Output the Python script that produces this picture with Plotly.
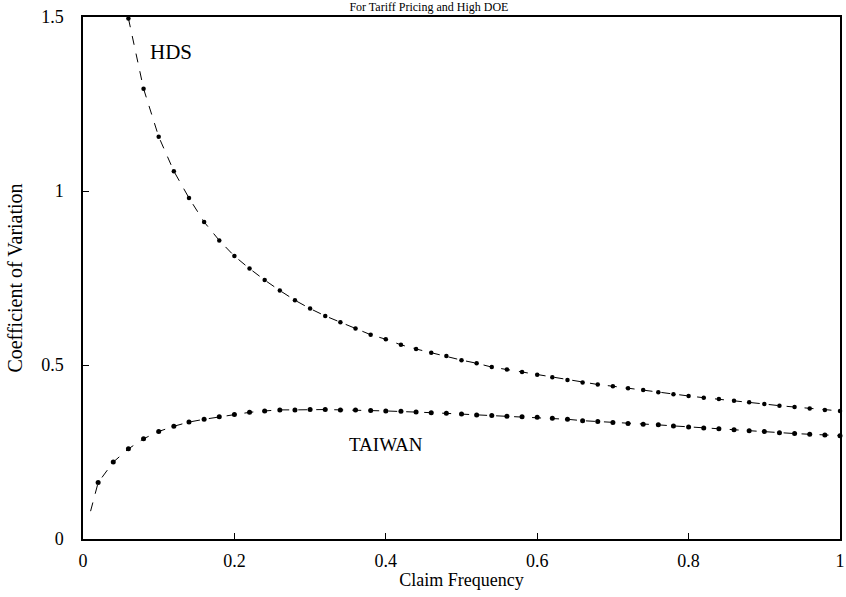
import plotly.graph_objects as go

# ---- data ----
x_taiwan = [0.02, 0.04, 0.06, 0.08, 0.10, 0.12, 0.14, 0.16, 0.18, 0.20,
            0.22, 0.24, 0.26, 0.28, 0.30, 0.32, 0.34, 0.36, 0.38, 0.40,
            0.42, 0.44, 0.46, 0.48, 0.50, 0.52, 0.54, 0.56, 0.58, 0.60,
            0.62, 0.64, 0.66, 0.68, 0.70, 0.72, 0.74, 0.76, 0.78, 0.80,
            0.82, 0.84, 0.86, 0.88, 0.90, 0.92, 0.94, 0.96, 0.98, 1.00]
y_taiwan = [0.162, 0.221, 0.259, 0.288, 0.309, 0.324, 0.336, 0.344, 0.351, 0.358,
            0.364, 0.368, 0.371, 0.371, 0.372, 0.372, 0.371, 0.371, 0.369, 0.368,
            0.367, 0.365, 0.363, 0.361, 0.359, 0.356, 0.355, 0.353, 0.351, 0.350,
            0.347, 0.344, 0.340, 0.338, 0.335, 0.332, 0.330, 0.328, 0.325, 0.322,
            0.319, 0.317, 0.314, 0.311, 0.309, 0.305, 0.303, 0.301, 0.299, 0.297]
# dashed curve continues toward the origin before the first marker
x_taiwan_lead = [0.01]
y_taiwan_lead = [0.08]

x_hds = [0.06, 0.08, 0.10, 0.12, 0.14, 0.16, 0.18, 0.20,
         0.22, 0.24, 0.26, 0.28, 0.30, 0.32, 0.34, 0.36, 0.38, 0.40,
         0.42, 0.44, 0.46, 0.48, 0.50, 0.52, 0.54, 0.56, 0.58, 0.60,
         0.62, 0.64, 0.66, 0.68, 0.70, 0.72, 0.74, 0.76, 0.78, 0.80,
         0.82, 0.84, 0.86, 0.88, 0.90, 0.92, 0.94, 0.96, 0.98, 1.00]
y_hds = [1.496, 1.294, 1.156, 1.057, 0.980, 0.911, 0.858, 0.813,
         0.777, 0.744, 0.714, 0.686, 0.662, 0.641, 0.623, 0.605, 0.587, 0.574,
         0.558, 0.546, 0.535, 0.526, 0.514, 0.505, 0.494, 0.487, 0.480, 0.472,
         0.465, 0.457, 0.450, 0.444, 0.439, 0.433, 0.428, 0.422, 0.416, 0.411,
         0.406, 0.402, 0.397, 0.393, 0.388, 0.383, 0.379, 0.375, 0.371, 0.368]

x_tickvals = [0, 0.2, 0.4, 0.6, 0.8, 1]
x_ticktext = ["0", "0.2", "0.4", "0.6", "0.8", "1"]
y_tickvals = [0, 0.5, 1, 1.5]
y_ticktext = ["0", "0.5", "1", "1.5"]

title_text = "For Tariff Pricing and High DOE"
x_title = "Claim Frequency"
y_title = "Coefficient of Variation"

FONT = "Liberation Serif, Times New Roman, serif"

fig = go.Figure()

fig.add_trace(go.Scatter(
    x=x_taiwan_lead + x_taiwan, y=y_taiwan_lead + y_taiwan,
    mode="lines", line=dict(color="black", width=1, dash="dash"),
    hoverinfo="skip", showlegend=False))
fig.add_trace(go.Scatter(
    x=x_taiwan, y=y_taiwan, mode="markers",
    marker=dict(color="black", size=5), name="TAIWAN", showlegend=False,
    cliponaxis=False))

fig.add_trace(go.Scatter(
    x=x_hds, y=y_hds, mode="lines",
    line=dict(color="black", width=1, dash="dash"),
    hoverinfo="skip", showlegend=False))
fig.add_trace(go.Scatter(
    x=x_hds, y=y_hds, mode="markers",
    marker=dict(color="black", size=4.5), name="HDS", showlegend=False,
    cliponaxis=False))

fig.add_annotation(x=0.086, y=1.40, xref="x", yref="y", text="HDS",
                   showarrow=False, xanchor="left", yanchor="middle",
                   font=dict(family=FONT, size=21, color="black"))
fig.add_annotation(x=0.40, y=0.273, xref="x", yref="y", text="TAIWAN",
                   showarrow=False, xanchor="center", yanchor="middle",
                   font=dict(family=FONT, size=19, color="black"))

fig.update_layout(
    width=846, height=597,
    margin=dict(l=83, r=6, t=17, b=58, autoexpand=False),
    paper_bgcolor="white", plot_bgcolor="white",
    font=dict(family=FONT, size=18, color="black"),
    title=dict(text=title_text, x=0.507, xref="container", xanchor="center",
               y=1.0, yref="container", yanchor="top", pad=dict(t=3),
               font=dict(family=FONT, size=12, color="black"),
               automargin=False),
    showlegend=False,
)
fig.update_xaxes(
    range=[0, 1], tickvals=x_tickvals, ticktext=x_ticktext,
    showgrid=False, zeroline=False, showline=True, linecolor="black",
    linewidth=1.5, mirror=True, ticks="inside", ticklen=6, tickcolor="black",
    tickfont=dict(family=FONT, size=18), ticklabelstandoff=5,
    ticklabeloverflow="allow", automargin=False,
    title=dict(text=x_title, font=dict(family=FONT, size=18), standoff=3))
fig.update_yaxes(
    range=[0, 1.5], tickvals=y_tickvals, ticktext=y_ticktext,
    showgrid=False, zeroline=False, showline=True, linecolor="black",
    linewidth=1.5, mirror=True, ticks="inside", ticklen=6, tickcolor="black",
    tickfont=dict(family=FONT, size=18), ticklabelstandoff=14,
    ticklabeloverflow="allow", automargin=False,
    title=dict(text=y_title, font=dict(family=FONT, size=20), standoff=13))

fig.write_html("out.html", config={"displayModeBar": False},
               post_script="document.body.style.margin='0px';")
